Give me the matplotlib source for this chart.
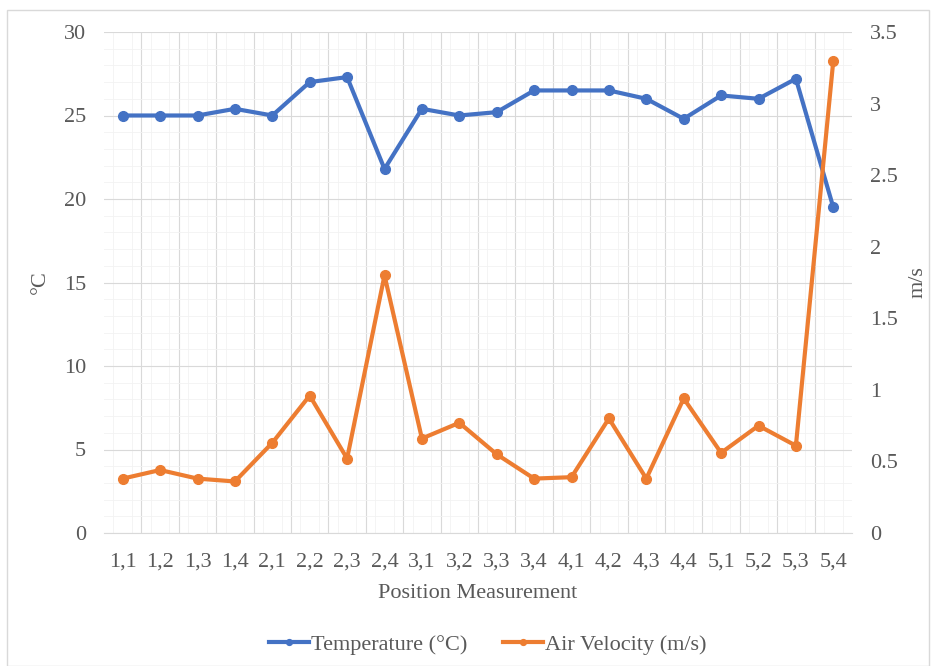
import numpy as np
import matplotlib.pyplot as plt
from matplotlib.ticker import MultipleLocator

# data
positions = ["1,1", "1,2", "1,3", "1,4", "2,1", "2,2", "2,3", "2,4", "3,1", "3,2",
             "3,3", "3,4", "4,1", "4,2", "4,3", "4,4", "5,1", "5,2", "5,3", "5,4"]
temperature = [25.0, 25.0, 25.0, 25.4, 25.0, 27.0, 27.3, 21.8, 25.4, 25.0,
               25.2, 26.5, 26.5, 26.5, 26.0, 24.8, 26.2, 26.0, 27.2, 19.5]
air_velocity = [0.38, 0.44, 0.38, 0.36, 0.63, 0.96, 0.52, 1.80, 0.66, 0.77,
                0.55, 0.38, 0.39, 0.80, 0.38, 0.94, 0.56, 0.75, 0.61, 3.30]

blue = '#4472C4'
orange = '#ED7D31'
txt = '#595959'
fs = 16

plt.rcParams['font.family'] = ['Liberation Serif', 'DejaVu Serif']

fig = plt.figure(figsize=(9.36, 6.66), dpi=100)
# light frame around the whole chart
fig.patches.append(plt.Rectangle((0.008, 0.0), 0.984, 0.985, transform=fig.transFigure,
                                 fill=False, edgecolor='#d9d9d9', linewidth=1.0))

ax = fig.add_axes([104/936, 1 - 533/666, (852-104)/936, (533-32)/666])
x = np.arange(len(positions))

ax.set_xlim(-0.5, len(positions) - 0.5)
ax.set_ylim(0, 30)
ax.yaxis.set_major_locator(MultipleLocator(5))
ax.yaxis.set_minor_locator(MultipleLocator(1))
ax.set_xticks(x)
ax.set_xticklabels(positions)

# grid: category boundaries + faint minor lines
for b in np.arange(0.5, len(positions) - 0.5, 1):
    ax.axvline(b, color='#d9d9d9', linewidth=0.8, zorder=0)
for m in np.arange(-0.25, len(positions) - 0.5, 0.5):
    ax.axvline(m, color='#f2f2f2', linewidth=0.6, zorder=0)
ax.grid(axis='y', which='major', color='#d9d9d9', linewidth=0.8, zorder=0)
ax.grid(axis='y', which='minor', color='#f2f2f2', linewidth=0.6, zorder=0)
ax.set_axisbelow(True)

for s in ['top', 'right', 'left']:
    ax.spines[s].set_visible(False)
ax.spines['bottom'].set_color('#d9d9d9')
ax.tick_params(which='both', length=0, colors=txt, labelsize=fs)
ax.tick_params(axis='y', pad=13)
ax.tick_params(axis='x', pad=14)

l1, = ax.plot(x, temperature, color=blue, linewidth=3, marker='o', markersize=7,
              label='Temperature (°C)', zorder=3)
ax.set_ylabel('°C', color=txt, fontsize=fs, labelpad=10)
ax.set_xlabel('Position Measurement', color=txt, fontsize=fs, labelpad=9)

ax2 = ax.twinx()
ax2.set_ylim(0, 3.5)
ax2.yaxis.set_major_locator(MultipleLocator(0.5))
ax2.yaxis.set_major_formatter(plt.FuncFormatter(lambda v, p: f'{v:g}'))
for s in ['top', 'right', 'left', 'bottom']:
    ax2.spines[s].set_visible(False)
ax2.tick_params(length=0, colors=txt, labelsize=fs, pad=13)
l2, = ax2.plot(x, air_velocity, color=orange, linewidth=3, marker='o', markersize=7,
               label='Air Velocity (m/s)', zorder=3)
ax2.set_ylabel('m/s', color=txt, fontsize=fs, labelpad=8)

fig.legend(handles=[l1, l2], loc='center', bbox_to_anchor=(0.521, 1 - 645/666), ncol=2,
           frameon=False, fontsize=fs, labelcolor=txt, handlelength=1.8,
           handletextpad=0.1, columnspacing=1.6, markerscale=0.6)

fig.savefig('out.png', dpi=100)
